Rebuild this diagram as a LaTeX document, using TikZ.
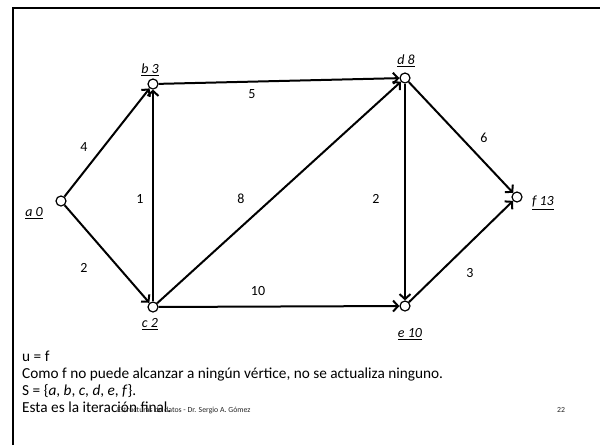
\documentclass[tikz,border=0pt]{standalone}
\usepackage{fontspec}
\setmainfont{Carlito}
\usetikzlibrary{arrows.meta}
\begin{document}
\begin{tikzpicture}[x=1pt,y=-1pt,
  vtx/.style={circle,draw,fill=white,line width=1.2pt,minimum size=10pt,inner sep=0pt},
  vlab/.style={font=\fontsize{14}{16}\selectfont\itshape, inner sep=0pt},
  elab/.style={font=\fontsize{14}{16}\selectfont, inner sep=0pt},
  edge/.style={line width=2pt,-{Straight Barb[length=5pt,width=11pt]}},
  txt/.style={font=\fontsize{15.3}{17}\selectfont, anchor=base west, inner sep=0pt},
  foot/.style={font=\fontsize{7.8}{9}\selectfont, anchor=base west, inner sep=0pt, text=black!85}]
\useasboundingbox (0,0) rectangle (600,445);
\draw[line width=2.5pt] (13,445) -- (13,8) -- (600,8);
% vertices
\node[vtx] (a) at (61,201) {};
\node[vtx] (b) at (153,84) {};
\node[vtx] (c) at (153,307) {};
\node[vtx] (d) at (405,78) {};
\node[vtx] (e) at (405,306) {};
\node[vtx] (f) at (517,197) {};
% vertex labels
\node[vlab] (la) at (34,213) {\underline{a 0}};
\node[vlab] (lb) at (150,70) {\underline{b 3}};
\node[vlab] (lc) at (150,324) {\underline{c 2}};
\node[vlab] (ld) at (406,61) {\underline{d 8}};
\node[vlab] (le) at (410,334) {\underline{e 10}};
\node[vlab] (lf) at (543,203) {\underline{f 13}};
% edges
\draw[edge] (a) -- (b);
\draw[edge] (a) -- (c);
\draw[edge] (b) -- (d);
\draw[edge] (c) -- (b);
\draw[edge] (c) -- (d);
\draw[edge] (c) -- (e);
\draw[edge] (d) -- (e);
\draw[edge] (d) -- (f);
\draw[edge] (e) -- (f);
% edge weights
\node[elab] (w1) at (84,147) {4};
\node[elab] (w2) at (84,268) {2};
\node[elab] (w3) at (252,94) {5};
\node[elab] (w4) at (140,199) {1};
\node[elab] (w5) at (241,199) {8};
\node[elab] (w6) at (258,291) {10};
\node[elab] (w7) at (376,199) {2};
\node[elab] (w8) at (484,138) {6};
\node[elab] (w9) at (470,273) {3};
% text
\node[txt] (t1) at (22,361) {u = f};
\node[txt] (t2) at (22,378) {Como f no puede alcanzar a ningún vértice, no se actualiza ninguno.};
\node[txt] (t3) at (22,395) {S = \{\textit{a}, \textit{b}, \textit{c}, \textit{d}, \textit{e}, \textit{f}\}.};
\node[txt] (t4) at (22,412) {Esta es la iteración final.};
\node[foot] (ft) at (117,412) {Estructuras de datos - Dr. Sergio A. Gómez};
\node[foot] (pg) at (557,412) {22};
\end{tikzpicture}
\end{document}
